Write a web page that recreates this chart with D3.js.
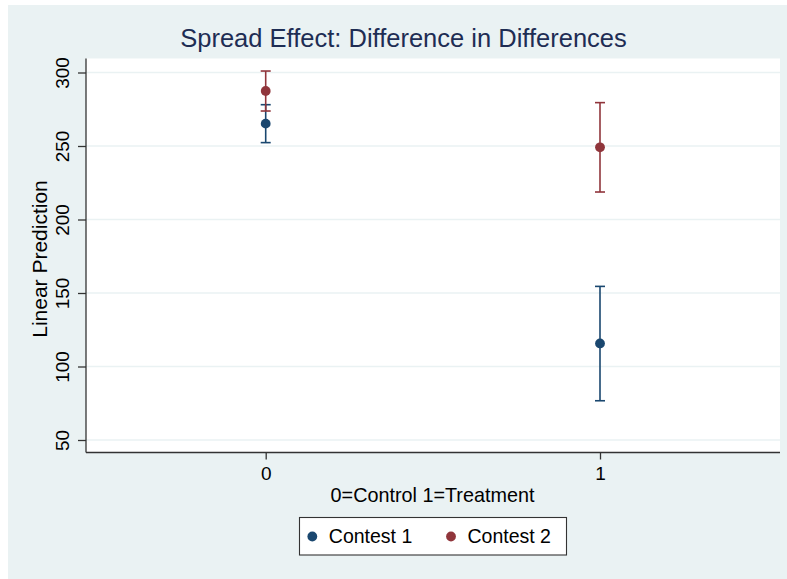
<!DOCTYPE html>
<html>
<head>
<meta charset="utf-8">
<script src="https://cdn.jsdelivr.net/npm/d3@7"></script>
<style>
  html, body { margin: 0; padding: 0; background: #ffffff; }
  svg { display: block; font-family: "Liberation Sans", Arial, sans-serif; }
</style>
</head>
<body>
<svg id="chart" width="787" height="579"></svg>
<script>
// Treatment groups on the x axis
const groups = [0, 1];
const groupLabels = ["0", "1"];

// Linear predictions with 95% confidence limits, per contest
const contest1Pred  = [265.2, 115.7];
const contest1Lower = [252.3, 76.7];
const contest1Upper = [278.1, 154.5];

const contest2Pred  = [287.4, 249.1];
const contest2Lower = [273.8, 218.7];
const contest2Upper = [301.0, 279.5];

const seriesNames = ["Contest 1", "Contest 2"];
const yTicks = [50, 100, 150, 200, 250, 300];

const navy = "#1a476f";
const maroon = "#90353b";
const bgColor = "#eaf2f3";

const series = [
  { name: seriesNames[0], color: navy,   pred: contest1Pred, lo: contest1Lower, hi: contest1Upper },
  { name: seriesNames[1], color: maroon, pred: contest2Pred, lo: contest2Lower, hi: contest2Upper }
];

const svg = d3.select("#chart");

// Plot region bounds
const plot = { left: 86, right: 780, top: 58.5, bottom: 452.5 };

const x = d3.scaleLinear().domain([0, 1]).range([265.7, 600]);
const y = d3.scaleLinear().domain([50, 300]).range([440, 72.5]);

// Outer graph region
svg.append("rect")
  .attr("x", 8).attr("y", 5)
  .attr("width", 779).attr("height", 574)
  .attr("fill", bgColor);

// Plot region
svg.append("rect")
  .attr("x", plot.left).attr("y", plot.top)
  .attr("width", plot.right - plot.left).attr("height", plot.bottom - plot.top)
  .attr("fill", "#ffffff");

// Horizontal grid lines
svg.append("g")
  .selectAll("line")
  .data(yTicks)
  .join("line")
  .attr("x1", plot.left).attr("x2", plot.right)
  .attr("y1", d => y(d)).attr("y2", d => y(d))
  .attr("stroke", bgColor)
  .attr("stroke-width", 1.6);

// Title
svg.append("text")
  .attr("x", 403.5).attr("y", 46.8)
  .attr("text-anchor", "middle")
  .attr("font-size", 25.5)
  .attr("fill", "#1e2d54")
  .text("Spread Effect: Difference in Differences");

// Y axis
const yAxis = d3.axisLeft(y).tickValues(yTicks).tickSize(8).tickPadding(0).tickFormat(d3.format("d"));
const gy = svg.append("g").attr("transform", `translate(${plot.left},0)`).call(yAxis);
gy.select(".domain").remove();
gy.append("line")
  .attr("x1", 0).attr("x2", 0)
  .attr("y1", plot.top).attr("y2", plot.bottom)
  .attr("stroke", "#333").attr("stroke-width", 1.3);
gy.selectAll(".tick line").attr("stroke", "#333").attr("stroke-width", 1.3);
gy.selectAll(".tick text")
  .attr("x", null).attr("dy", null)
  .attr("text-anchor", "middle")
  .attr("font-size", 19)
  .attr("font-family", "Liberation Sans, Arial, sans-serif")
  .attr("fill", "#000")
  .attr("transform", "translate(-17.5,0) rotate(-90)");

// X axis
const xAxis = d3.axisBottom(x).tickValues(groups).tickSize(7).tickPadding(0)
  .tickFormat((d, i) => groupLabels[i]);
const gx = svg.append("g").attr("transform", `translate(0,${plot.bottom})`).call(xAxis);
gx.select(".domain").remove();
gx.append("line")
  .attr("x1", plot.left).attr("x2", plot.right)
  .attr("y1", 0).attr("y2", 0)
  .attr("stroke", "#333").attr("stroke-width", 1.3);
gx.selectAll(".tick line").attr("stroke", "#333").attr("stroke-width", 1.3);
gx.selectAll(".tick text")
  .attr("y", 27.3).attr("dy", null)
  .attr("font-size", 19)
  .attr("font-family", "Liberation Sans, Arial, sans-serif")
  .attr("fill", "#000");

// Axis titles
svg.append("text")
  .attr("x", 432.5).attr("y", 501.5)
  .attr("text-anchor", "middle")
  .attr("font-size", 19.8)
  .attr("fill", "#000")
  .text("0=Control 1=Treatment");

svg.append("text")
  .attr("transform", `translate(46.5,${(plot.top + plot.bottom) / 2 + 3.5}) rotate(-90)`)
  .attr("text-anchor", "middle")
  .attr("font-size", 21)
  .attr("fill", "#000")
  .text("Linear Prediction");

// Confidence intervals (capped spikes)
const capHalf = 5;
series.forEach(s => {
  const g = svg.append("g").attr("stroke", s.color).attr("stroke-width", 1.6).attr("fill", "none");
  groups.forEach((gv, i) => {
    const cx = x(gv);
    g.append("line").attr("x1", cx).attr("x2", cx).attr("y1", y(s.lo[i])).attr("y2", y(s.hi[i]));
    g.append("line").attr("x1", cx - capHalf).attr("x2", cx + capHalf).attr("y1", y(s.lo[i])).attr("y2", y(s.lo[i]));
    g.append("line").attr("x1", cx - capHalf).attr("x2", cx + capHalf).attr("y1", y(s.hi[i])).attr("y2", y(s.hi[i]));
  });
});

// Point estimates
series.forEach(s => {
  svg.append("g")
    .selectAll("circle")
    .data(groups)
    .join("circle")
    .attr("cx", d => x(d))
    .attr("cy", (d, i) => y(s.pred[i]))
    .attr("r", 4.9)
    .attr("fill", s.color);
});

// Legend
const legend = svg.append("g");
legend.append("rect")
  .attr("x", 299.5).attr("y", 517.5)
  .attr("width", 267).attr("height", 37.5)
  .attr("fill", "#ffffff")
  .attr("stroke", "#333").attr("stroke-width", 1.1);
const legendX = [312.3, 451];
series.forEach((s, i) => {
  legend.append("circle")
    .attr("cx", legendX[i]).attr("cy", 536.5)
    .attr("r", 4.9).attr("fill", s.color);
  legend.append("text")
    .attr("x", legendX[i] + 16.5).attr("y", 542.7)
    .attr("font-size", 19.5)
    .attr("fill", "#000")
    .text(s.name);
});
</script>
</body>
</html>
